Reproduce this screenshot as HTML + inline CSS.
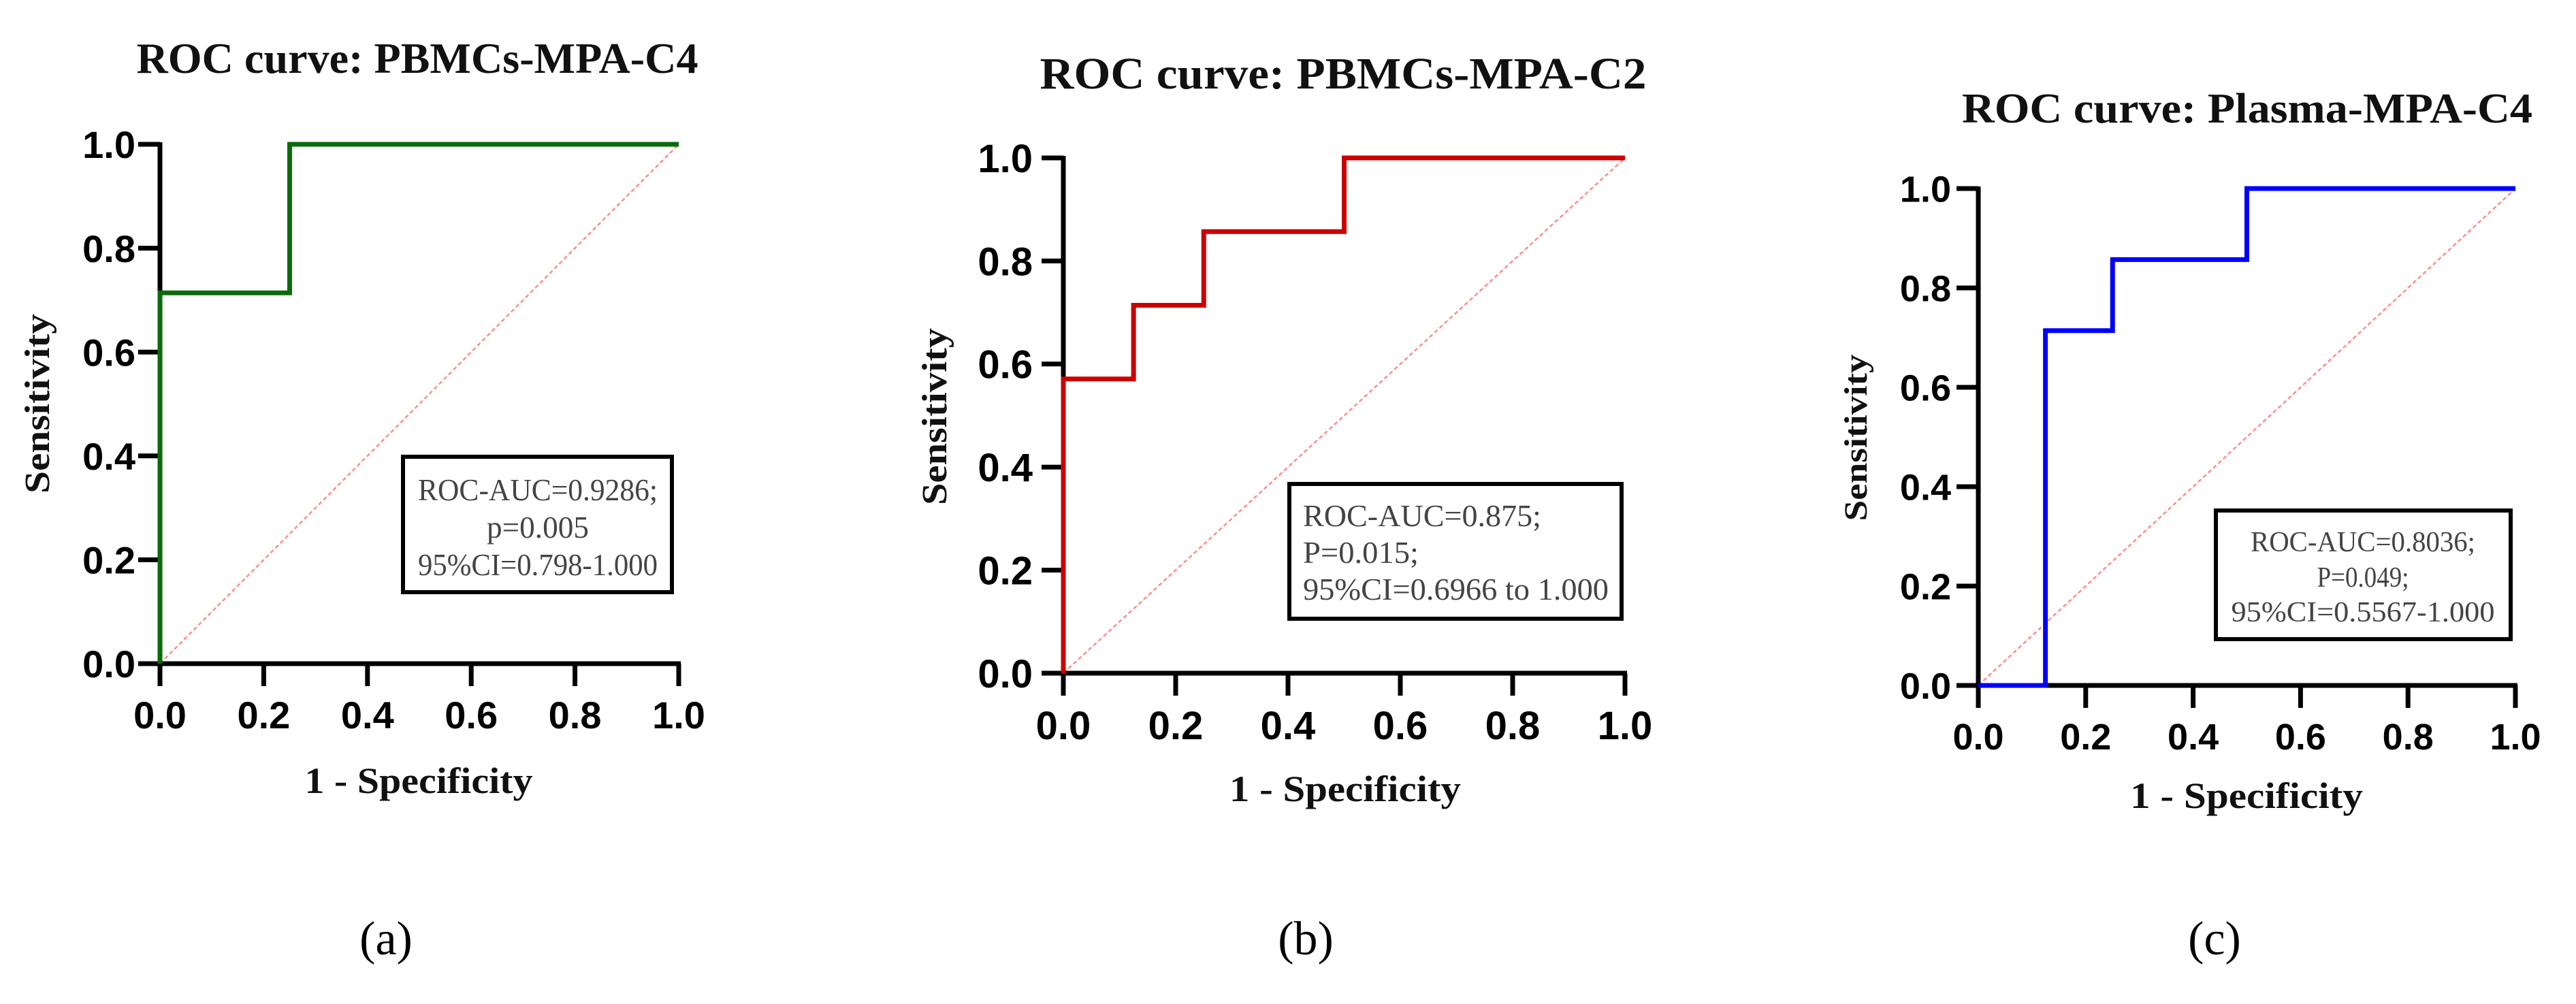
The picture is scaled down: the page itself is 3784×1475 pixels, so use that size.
<!DOCTYPE html>
<html><head><meta charset="utf-8">
<style>
html,body{margin:0;padding:0;background:#fff;}
svg{display:block;}
.tick{font-family:"Liberation Sans",Arial,sans-serif;font-weight:bold;fill:#000;}
.serifb{font-family:"Liberation Serif",serif;font-weight:bold;fill:#111;}
.leg{font-family:"Liberation Serif",serif;fill:#444;}
.cap{font-family:"Liberation Serif",serif;fill:#000;}
</style></head>
<body>
<svg id="fig" xmlns="http://www.w3.org/2000/svg" width="3784" height="1475" viewBox="0 0 3784 1475"></svg>
<script>
// ---- data ----
const tickValues = [0, 0.2, 0.4, 0.6, 0.8, 1.0];
const tickLabels = ["0.0", "0.2", "0.4", "0.6", "0.8", "1.0"];
const fprA = [0, 0, 0.25, 0.25, 1];
const tprA = [0, 0.714, 0.714, 1, 1];
const fprB = [0, 0, 0.125, 0.125, 0.25, 0.25, 0.5, 0.5, 1];
const tprB = [0, 0.571, 0.571, 0.714, 0.714, 0.857, 0.857, 1, 1];
const fprC = [0, 0.125, 0.125, 0.25, 0.25, 0.5, 0.5, 1];
const tprC = [0, 0, 0.714, 0.714, 0.857, 0.857, 1, 1];
const titles = ["ROC curve: PBMCs-MPA-C4", "ROC curve: PBMCs-MPA-C2", "ROC curve: Plasma-MPA-C4"];
const legendA = ["ROC-AUC=0.9286;", "p=0.005", "95%CI=0.798-1.000"];
const legendB = ["ROC-AUC=0.875;", "P=0.015;", "95%CI=0.6966 to 1.000"];
const legendC = ["ROC-AUC=0.8036;", "P=0.049;", "95%CI=0.5567-1.000"];
const captions = ["(a)", "(b)", "(c)"];

const NS = "http://www.w3.org/2000/svg";
const svg = document.getElementById("fig");
function mk(tag, attrs, parent, text){
  const e = document.createElementNS(NS, tag);
  for (const k in attrs) e.setAttribute(k, attrs[k]);
  if (text !== undefined) e.textContent = text;
  (parent || svg).appendChild(e);
  return e;
}

const panels = [
  {key:"a", x0:235, x1:997, y1:212, y0:975, color:"#0b6b0b", fpr:fprA, tpr:tprA, legend:legendA,
   title:{x:613, y:107, fs:64, len:825}, tickFs:56, xLabY:1070, yLabX:199,
   xt:{x:615, y:1165, len:335, fs:54}, yt:{x:72, y:593, len:264, fs:52},
   box:{x:592, y:671, w:395, h:199}, legAlign:"middle", legX:790, legY:[735,790,845], legLen:[352,150,352], legFs:46, cap:567},
  {key:"b", x0:1562, x1:2387, y1:232, y0:989, color:"#cc0000", fpr:fprB, tpr:tprB, legend:legendB,
   title:{x:1973, y:130, fs:66, len:891}, tickFs:58, xLabY:1086, yLabX:1517,
   xt:{x:1976, y:1177, len:340, fs:54}, yt:{x:1390, y:612, len:260, fs:52},
   box:{x:1894, y:711, w:488, h:198}, legAlign:"start", legX:1914, legY:[773,827,881], legLen:[350,170,449], legFs:46, cap:1918},
  {key:"c", x0:2906, x1:3695, y1:277, y0:1007, color:"#0000ff", fpr:fprC, tpr:tprC, legend:legendC,
   title:{x:3301, y:180, fs:62, len:838}, tickFs:54, xLabY:1101, yLabX:2866,
   xt:{x:3300, y:1187, len:342, fs:54}, yt:{x:2742, y:643, len:245, fs:48},
   box:{x:3255, y:750, w:433, h:189}, legAlign:"middle", legX:3471, legY:[810,862,913], legLen:[330,135,387], legFs:42, cap:3253}
];

panels.forEach((p, i) => {
  const g = mk("g", {});
  
  
  const sx = v => p.x0 + v * (p.x1 - p.x0);
  const sy = v => p.y0 - v * (p.y0 - p.y1);

  const t = mk("text", {x:p.title.x, y:p.title.y, "text-anchor":"middle", "font-size":p.title.fs, textLength:p.title.len, lengthAdjust:"spacingAndGlyphs", class:"serifb"}, g, titles[i]);
  
  

  // diagonal reference
  const d = mk("line", {x1:sx(0), y1:sy(0), x2:sx(1), y2:sy(1), stroke:"#ff8c8c", "stroke-width":2.5, "stroke-dasharray":"6 4"}, g);
  
  

  // axes
  const ax = mk("g", {stroke:"#000", "stroke-width":7, fill:"none"}, g);
  
  
  mk("line", {x1:sx(0), y1:sy(0)+3, x2:sx(0), y2:sy(1)-3}, ax);
  mk("line", {x1:sx(0)-32, y1:sy(0), x2:sx(1)+3, y2:sy(0)}, ax);
  tickValues.forEach((v, j) => {
    mk("line", {x1:sx(0)-32, y1:sy(v), x2:sx(0), y2:sy(v)}, ax);
    mk("line", {x1:sx(v), y1:sy(0), x2:sx(v), y2:sy(0)+33}, ax);
    const yl = mk("text", {x:p.yLabX, y:sy(v)+p.tickFs*0.36, "text-anchor":"end", "font-size":p.tickFs, class:"tick"}, g, tickLabels[j]);
    
    
    const xl = mk("text", {x:sx(v), y:p.xLabY, "text-anchor":"middle", "font-size":p.tickFs, class:"tick"}, g, tickLabels[j]);
    
    
  });

  // curve
  const pts = p.fpr.map((f, k) => sx(f) + "," + sy(p.tpr[k])).join(" ");
  const c = mk("polyline", {points:pts, fill:"none", stroke:p.color, "stroke-width":7, "stroke-linejoin":"miter"}, g);
  
  

  // axis titles
  const xt = mk("text", {x:p.xt.x, y:p.xt.y, "text-anchor":"middle", "font-size":p.xt.fs, textLength:p.xt.len, lengthAdjust:"spacingAndGlyphs", class:"serifb"}, g, "1 - Specificity");
  
  
  const yt = mk("text", {x:0, y:0, "text-anchor":"middle", "font-size":p.yt.fs, textLength:p.yt.len, lengthAdjust:"spacingAndGlyphs", class:"serifb", transform:"translate(" + p.yt.x + "," + p.yt.y + ") rotate(-90)"}, g, "Sensitivity");
  
  

  // legend box
  const lg = mk("g", {}, g);
  
  
  mk("rect", {x:p.box.x, y:p.box.y, width:p.box.w, height:p.box.h, fill:"#fff", stroke:"#000", "stroke-width":6}, lg);
  p.legend.forEach((line, k) => {
    const lt = mk("text", {x:p.legX, y:p.legY[k], "text-anchor":p.legAlign, "font-size":p.legFs, textLength:p.legLen[k], lengthAdjust:"spacingAndGlyphs", class:"leg"}, lg, line);
    
    
  });

  const cp = mk("text", {x:p.cap, y:1402, "text-anchor":"middle", "font-size":70, class:"cap"}, svg, captions[i]);
  
  
});
</script>
</body></html>
